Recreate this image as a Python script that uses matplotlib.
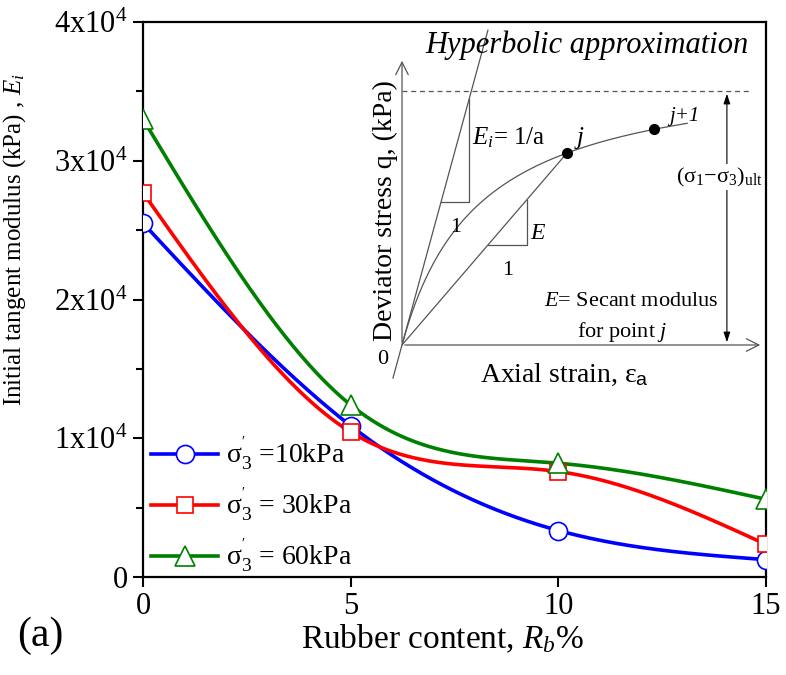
import numpy as np
import matplotlib
matplotlib.use("Agg")
import matplotlib.pyplot as plt
from matplotlib.lines import Line2D
from matplotlib.ticker import FuncFormatter, MultipleLocator

plt.rcParams["font.family"] = ["Liberation Serif", "DejaVu Serif"]
plt.rcParams["mathtext.fontset"] = "custom"
plt.rcParams["mathtext.rm"] = "Liberation Serif"
plt.rcParams["mathtext.it"] = "Liberation Serif:italic"
plt.rcParams["mathtext.bf"] = "Liberation Serif:bold"
plt.rcParams["mathtext.sf"] = "Liberation Sans"

# Rubber content (%) and initial tangent modulus (kPa)
rubber_content = [0, 5, 10, 15]
ei_10kpa = [25500, 10900, 3350, 1250]
ei_30kpa = [27700, 10450, 7600, 2350]
ei_60kpa = [33000, 12400, 8200, 5600]
series_labels = [r"σ$^{'}_{3}$ =10kPa", r"σ$^{'}_{3}$ = 30kPa", r"σ$^{'}_{3}$ = 60kPa"]
y_ticks = [0, 10000, 20000, 30000, 40000]
x_ticks = [0, 5, 10, 15]


def natural_spline(x, y, n=300):
    """Smooth connecting curve (natural cubic spline) through the given points."""
    x = np.asarray(x, float)
    y = np.asarray(y, float)
    m = len(x)
    h = np.diff(x)
    A = np.zeros((m, m))
    r = np.zeros(m)
    A[0, 0] = A[-1, -1] = 1.0
    for i in range(1, m - 1):
        A[i, i - 1] = h[i - 1]
        A[i, i] = 2 * (h[i - 1] + h[i])
        A[i, i + 1] = h[i]
        r[i] = 3 * ((y[i + 1] - y[i]) / h[i] - (y[i] - y[i - 1]) / h[i - 1])
    c = np.linalg.solve(A, r)
    xs = np.linspace(x[0], x[-1], n)
    idx = np.clip(np.searchsorted(x, xs) - 1, 0, m - 2)
    b = (y[1:] - y[:-1]) / h - h * (2 * c[:-1] + c[1:]) / 3
    d = (c[1:] - c[:-1]) / (3 * h)
    t = xs - x[idx]
    ys = y[idx] + b[idx] * t + c[idx] * t ** 2 + d[idx] * t ** 3
    return xs, ys


fig = plt.figure(figsize=(7.86, 6.75), dpi=100)
ax = fig.add_axes([143 / 786, 1 - 577 / 675, 623 / 786, 555 / 675])

styles = [("#0000ff", "o", 13), ("#ff0000", "s", 12), ("#008000", "^", 14)]
handles = []
for vals, (col, mk, ms), lab in zip([ei_10kpa, ei_30kpa, ei_60kpa], styles, series_labels):
    xs, ys = natural_spline(rubber_content, vals)
    ax.plot(xs, ys, color=col, lw=2.6, zorder=2)
    ax.plot(rubber_content, vals, ls="none", marker=mk, ms=ms, mfc="white",
            mec=col, mew=1.2, zorder=3)
    handles.append(Line2D([], [], color=col, lw=2.6, marker=mk, ms=ms,
                          mfc="white", mec=col, mew=1.2))

ax.set_xlim(0, 15)
ax.set_ylim(0, 40000)
ax.set_xticks(x_ticks)
ax.set_yticks(y_ticks)
ax.yaxis.set_minor_locator(MultipleLocator(5000))


def sci_fmt(v, pos):
    if v == 0:
        return "0"
    return r"$\mathregular{%dx10^{4}}$" % int(round(v / 10000))


ax.yaxis.set_major_formatter(FuncFormatter(sci_fmt))
ax.tick_params(axis="both", which="major", direction="out", length=7, width=1.5,
               labelsize=22, pad=4)
ax.tick_params(axis="y", which="minor", direction="out", length=5, width=1.5)
for s in ax.spines.values():
    s.set_linewidth(1.6)

ax.set_xlabel(r"Rubber content, $R_{b}$%", fontsize=24)
ax.xaxis.set_label_coords(0.48, -0.082)
ax.set_ylabel(r"Initial tangent modulus (kPa) , $E_{i}$", fontsize=18)
ax.yaxis.set_label_coords(-0.185, 0.607)

leg = ax.legend(handles, series_labels, loc="lower left", bbox_to_anchor=(0.0, -0.012),
                frameon=False, fontsize=20, handlelength=2.4, handletextpad=0.3,
                labelspacing=0.48, borderaxespad=0.1, borderpad=0.2)

fig.text(40 / 786, 1 - 636 / 675, "(a)", fontsize=30, ha="center", va="center")

# Schematic of the hyperbolic stress-strain model
ins = fig.add_axes([402 / 786, 1 - 345 / 675, 361 / 786, 287 / 675])
ins.set_xlim(0, 1)
ins.set_ylim(0, 1)
ins.axis("off")

lw_s = 0.9
gcol = "#555555"
arrow_kw = dict(arrowstyle="->,head_length=0.9,head_width=0.45", color=gcol, lw=lw_s)
ins.annotate("", xy=(0, 1.0), xytext=(0, 0), arrowprops=arrow_kw, annotation_clip=False)
ins.annotate("", xy=(1.0, 0), xytext=(0, 0), arrowprops=arrow_kw, annotation_clip=False)

a_par, b_par = 0.217, 1.02
q_ult = 0.885
eps = np.linspace(0, 0.79, 200)
q = eps / (a_par + b_par * eps)
ins.plot(eps, q, color=gcol, lw=lw_s, clip_on=False)
ins.plot([0, 0.964], [q_ult, q_ult], color=gcol, lw=lw_s, ls=(0, (4, 3)), clip_on=False)

ei = 1 / a_par
ins.plot([-0.025, 0.238], [-0.025 * ei, 0.238 * ei], color=gcol, lw=lw_s, clip_on=False)
ins.plot([0.498 / ei, 0.186, 0.186], [0.498, 0.498, 0.186 * ei], color=gcol, lw=lw_s)

e_j, e_j1 = 0.457, 0.698
q_j = e_j / (a_par + b_par * e_j)
q_j1 = e_j1 / (a_par + b_par * e_j1)
sec = q_j / e_j
ins.plot([0, e_j], [0, q_j], color=gcol, lw=lw_s)
ins.plot([0.238, 0.346, 0.346], [0.238 * sec, 0.238 * sec, 0.346 * sec], color=gcol, lw=lw_s)
ins.plot([e_j, e_j1], [q_j, q_j1], ls="none", marker="o", ms=7, color="black", zorder=4)

ins.annotate("", xy=(0.900, q_ult), xytext=(0.900, 0),
             arrowprops=dict(arrowstyle="<|-|>,head_length=0.6,head_width=0.2",
                             color="black", lw=0.8), annotation_clip=False)
ins.text(0.878, 0.585, r"(σ$_{1}$−σ$_{3}$)$_{\mathregular{ult}}$", fontsize=16,
         ha="center", va="center", bbox=dict(fc="white", ec="none", pad=1))

ins.text(0.512, 1.045, "Hyperbolic approximation", fontsize=22, style="italic",
         ha="center", va="center")
ins.text(-0.047, 0.47, "Deviator stress q, (kPa)", fontsize=20, rotation=90,
         ha="center", va="center")
ins.text(0.451, -0.105, r"Axial strain, ε$_{\mathsf{a}}$", fontsize=20,
         ha="center", va="center")
ins.text(-0.053, -0.052, "0", fontsize=16, ha="center", va="center")
ins.text(0.194, 0.721, r"$E_{i}$= 1/a", fontsize=18, ha="left", va="center")
ins.text(0.485, 0.721, "j", fontsize=18, style="italic", ha="left", va="center")
ins.text(0.74, 0.795, "j+1", fontsize=15, style="italic", ha="left", va="center")
ins.text(0.150, 0.411, "1", fontsize=16, ha="center", va="center")
ins.text(0.294, 0.261, "1", fontsize=16, ha="center", va="center")
ins.text(0.356, 0.39, "E", fontsize=17, style="italic", ha="left", va="center")
ins.text(0.634, 0.150, r"$E$= Secant modulus", fontsize=16, ha="center", va="center")
ins.text(0.609, 0.045, r"for point $j$", fontsize=16, ha="center", va="center")

fig.savefig("out.png", dpi=100)
